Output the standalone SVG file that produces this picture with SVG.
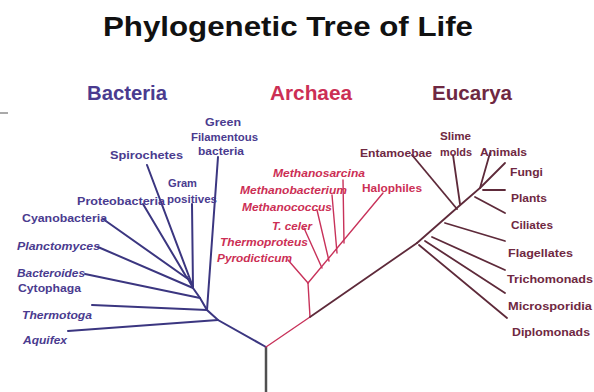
<svg xmlns="http://www.w3.org/2000/svg" width="594" height="392" viewBox="0 0 594 392">
<style>
text{font-family:"Liberation Sans",Arial,sans-serif;font-weight:bold}
.title{font-size:28px;fill:#111}
.hdr{font-size:20px}
.lb{font-size:10.5px}
.it{font-style:italic}
.bac{fill:#4a3b8f}
.arc{fill:#cc2f55}
.euc{fill:#6f2842}
.lbac{stroke:#3b3680;stroke-width:2;fill:none;stroke-linecap:round}
.larc{stroke:#c8325a;stroke-width:1.4;fill:none;stroke-linecap:round}
.leuc{stroke:#5e2a3a;stroke-width:1.8;fill:none;stroke-linecap:round}
.lroot{stroke:#505050;stroke-width:2.5;fill:none}
</style>
<rect width="594" height="392" fill="#fff"/>
<text class="title" x="103" y="36" textLength="370" lengthAdjust="spacingAndGlyphs">Phylogenetic Tree of Life</text>
<line x1="0" y1="113" x2="8" y2="113" stroke="#555" stroke-width="1"/>

<g id="connectors">
  <line class="lroot" x1="266" y1="347" x2="266" y2="392"/>
  <!-- bacteria -->
  <polyline class="lbac" points="266,347 218,320 207,310 200,298 193,288 187,277"/>
  <line class="lbac" x1="68" y1="331" x2="218" y2="320"/>
  <line class="lbac" x1="92" y1="305" x2="207" y2="310"/>
  <line class="lbac" x1="218" y1="157" x2="207" y2="310"/>
  <line class="lbac" x1="85" y1="274" x2="200" y2="298"/>
  <line class="lbac" x1="98" y1="247" x2="193" y2="288"/>
  <line class="lbac" x1="103" y1="219" x2="188" y2="279"/>
  <line class="lbac" x1="143" y1="204" x2="187" y2="278"/>
  <line class="lbac" x1="147" y1="165" x2="193" y2="287"/>
  <line class="lbac" x1="192" y1="204" x2="193" y2="288"/>
  <!-- archaea -->
  <polyline class="larc" points="266,347 310,317 308,283"/>
  <line class="larc" x1="308" y1="283" x2="288" y2="260"/>
  <line class="larc" x1="308" y1="283" x2="383" y2="193"/>
  <line class="larc" x1="304" y1="228" x2="322" y2="268"/>
  <line class="larc" x1="317" y1="210" x2="329" y2="261"/>
  <line class="larc" x1="332" y1="195" x2="337" y2="253"/>
  <line class="larc" x1="343" y1="180" x2="344" y2="243"/>
  <!-- eucarya -->
  <line class="leuc" x1="310" y1="317" x2="417" y2="243"/>
  <polyline class="leuc" points="417,243 458,207 480,188 490,153"/>
  <line class="leuc" x1="412" y1="155" x2="457" y2="209"/>
  <line class="leuc" x1="453" y1="155" x2="460" y2="204"/>
  <line class="leuc" x1="480" y1="188" x2="505" y2="163"/>
  <line class="leuc" x1="483" y1="190" x2="505" y2="190"/>
  <line class="leuc" x1="475" y1="197" x2="505" y2="213"/>
  <line class="leuc" x1="445" y1="223" x2="505" y2="241"/>
  <line class="leuc" x1="432" y1="237" x2="505" y2="270"/>
  <line class="leuc" x1="425" y1="241" x2="505" y2="293"/>
  <line class="leuc" x1="419" y1="245" x2="507" y2="318"/>
</g>

<g id="hdr-bacteria"><text class="hdr bac" x="87" y="100" textLength="80" lengthAdjust="spacingAndGlyphs">Bacteria</text></g>
<g id="hdr-archaea"><text class="hdr arc" x="270" y="100" textLength="82" lengthAdjust="spacingAndGlyphs">Archaea</text></g>
<g id="hdr-eucarya"><text class="hdr euc" x="432" y="100" textLength="80" lengthAdjust="spacingAndGlyphs">Eucarya</text></g>

<g id="green-filamentous">
  <text class="lb bac" x="205" y="126" textLength="36" lengthAdjust="spacingAndGlyphs">Green</text>
  <text class="lb bac" x="191" y="141" textLength="67" lengthAdjust="spacingAndGlyphs">Filamentous</text>
  <text class="lb bac" x="198" y="155" textLength="46" lengthAdjust="spacingAndGlyphs">bacteria</text>
</g>
<g id="spirochetes"><text class="lb bac" x="110" y="159" textLength="73" lengthAdjust="spacingAndGlyphs">Spirochetes</text></g>
<g id="gram-positives">
  <text class="lb bac" x="168" y="187" textLength="29" lengthAdjust="spacingAndGlyphs">Gram</text>
  <text class="lb bac" x="167" y="203" textLength="50" lengthAdjust="spacingAndGlyphs">positives</text>
</g>
<g id="proteobacteria"><text class="lb bac" x="77" y="205" textLength="88" lengthAdjust="spacingAndGlyphs">Proteobacteria</text></g>
<g id="cyanobacteria"><text class="lb bac" x="22" y="222" textLength="85" lengthAdjust="spacingAndGlyphs">Cyanobacteria</text></g>
<g id="planctomyces"><text class="lb bac it" x="17" y="250" textLength="83" lengthAdjust="spacingAndGlyphs">Planctomyces</text></g>
<g id="bacteroides-cytophaga">
  <text class="lb bac it" x="17" y="277" textLength="68" lengthAdjust="spacingAndGlyphs">Bacteroides</text>
  <text class="lb bac" x="18" y="292" textLength="63" lengthAdjust="spacingAndGlyphs">Cytophaga</text>
</g>
<g id="thermotoga"><text class="lb bac it" x="22" y="319" textLength="70" lengthAdjust="spacingAndGlyphs">Thermotoga</text></g>
<g id="aquifex"><text class="lb bac it" x="23" y="344" textLength="44" lengthAdjust="spacingAndGlyphs">Aquifex</text></g>

<g id="methanosarcina"><text class="lb arc it" x="273" y="177" textLength="92" lengthAdjust="spacingAndGlyphs">Methanosarcina</text></g>
<g id="methanobacterium"><text class="lb arc it" x="240" y="194" textLength="107" lengthAdjust="spacingAndGlyphs">Methanobacterium</text></g>
<g id="methanococcus"><text class="lb arc it" x="242" y="211" textLength="90" lengthAdjust="spacingAndGlyphs">Methanococcus</text></g>
<g id="t-celer"><text class="lb arc it" x="272" y="230" textLength="40" lengthAdjust="spacingAndGlyphs">T. celer</text></g>
<g id="thermoproteus"><text class="lb arc it" x="220" y="246" textLength="88" lengthAdjust="spacingAndGlyphs">Thermoproteus</text></g>
<g id="pyrodicticum"><text class="lb arc it" x="217" y="262" textLength="75" lengthAdjust="spacingAndGlyphs">Pyrodicticum</text></g>
<g id="halophiles"><text class="lb arc" x="362" y="192" textLength="60" lengthAdjust="spacingAndGlyphs">Halophiles</text></g>

<g id="entamoebae"><text class="lb euc" x="360" y="157" textLength="72" lengthAdjust="spacingAndGlyphs">Entamoebae</text></g>
<g id="slime-molds">
  <text class="lb euc" x="440" y="140" textLength="31" lengthAdjust="spacingAndGlyphs">Slime</text>
  <text class="lb euc" x="440" y="156" textLength="32" lengthAdjust="spacingAndGlyphs">molds</text>
</g>
<g id="animals"><text class="lb euc" x="480" y="156" textLength="47" lengthAdjust="spacingAndGlyphs">Animals</text></g>
<g id="fungi"><text class="lb euc" x="510" y="176" textLength="33" lengthAdjust="spacingAndGlyphs">Fungi</text></g>
<g id="plants"><text class="lb euc" x="511" y="202" textLength="36" lengthAdjust="spacingAndGlyphs">Plants</text></g>
<g id="ciliates"><text class="lb euc" x="511" y="229" textLength="42" lengthAdjust="spacingAndGlyphs">Ciliates</text></g>
<g id="flagellates"><text class="lb euc" x="508" y="257" textLength="65" lengthAdjust="spacingAndGlyphs">Flagellates</text></g>
<g id="trichomonads"><text class="lb euc" x="507" y="283" textLength="86" lengthAdjust="spacingAndGlyphs">Trichomonads</text></g>
<g id="microsporidia"><text class="lb euc" x="508" y="310" textLength="84" lengthAdjust="spacingAndGlyphs">Microsporidia</text></g>
<g id="diplomonads"><text class="lb euc" x="512" y="336" textLength="78" lengthAdjust="spacingAndGlyphs">Diplomonads</text></g>
</svg>
